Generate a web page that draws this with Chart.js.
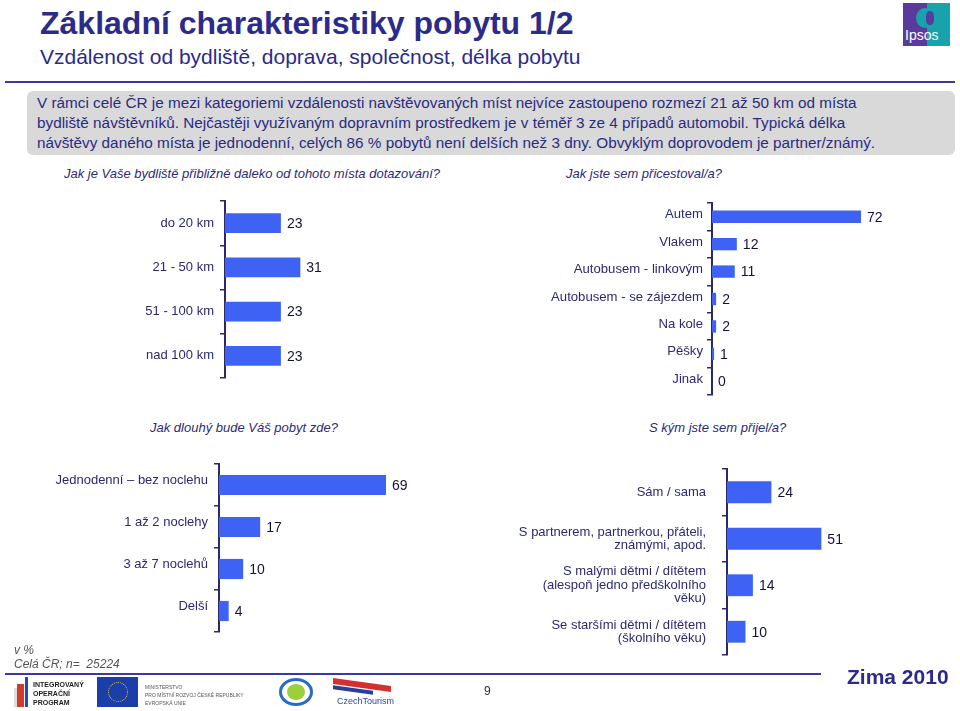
<!DOCTYPE html>
<html>
<head>
<meta charset="utf-8">
<script src="https://cdn.jsdelivr.net/npm/chart.js@4"></script>
<style>
  html,body{margin:0;padding:0;background:#fff;}
  body{width:960px;height:711px;position:relative;overflow:hidden;font-family:"Liberation Sans",Arial,sans-serif;}
  .abs{position:absolute;white-space:nowrap;}
  #title{left:40px;top:5px;font-size:32px;font-weight:bold;color:#2b2b8c;}
  #subtitle{left:40px;top:45px;font-size:21px;color:#2b2b8c;}
  #hline{left:5px;top:81px;width:950px;height:2px;background:#3a3a98;}
  #box{left:27px;top:91px;width:928px;height:64px;background:#d9d9da;border-radius:6px;}
  #boxtext{left:37px;top:93px;font-size:15.3px;line-height:20px;color:#2b2b80;}
  .q{font-style:italic;font-size:13px;color:#2b2b7a;}
  canvas{position:absolute;}
  #foot1{left:14px;top:643px;font-size:12px;font-style:italic;color:#555;}
  #foot2{left:14px;top:657px;font-size:12px;font-style:italic;color:#555;}
  #fline{left:5px;top:673px;width:816px;height:2px;background:#3a3a98;}
  #zima{left:847px;top:665px;font-size:21px;font-weight:bold;color:#2b2b8c;}
  #page{left:484px;top:684px;font-size:12px;color:#333;}
</style>
</head>
<body>
<div class="abs" id="title">Základní charakteristiky pobytu 1/2</div>
<div class="abs" id="subtitle">Vzdálenost od bydliště, doprava, společnost, délka pobytu</div>
<div class="abs" id="hline"></div>

<!-- Ipsos logo -->
<div class="abs" style="left:903px;top:3px;width:24px;height:43px;background:#5a3a9c;"></div>
<div class="abs" style="left:927px;top:3px;width:23px;height:43px;background:#17a3ab;"></div>
<div class="abs" style="left:916px;top:8px;width:18px;height:20px;border-radius:50%;background:#17a3ab;"></div>
<div class="abs" style="left:926px;top:11px;width:8px;height:14px;border-radius:40%;background:#5a3a9c;"></div>
<div class="abs" style="left:905px;top:27px;font-size:14px;color:#fff;font-family:'Liberation Sans Narrow','Liberation Sans',Arial;">Ipsos</div>

<div class="abs" id="box"></div>
<div class="abs" id="boxtext">V rámci celé ČR je mezi kategoriemi vzdálenosti navštěvovaných míst nejvíce zastoupeno rozmezí 21 až 50 km od místa<br>bydliště návštěvníků. Nejčastěji využívaným dopravním prostředkem je v téměř 3 ze 4 případů automobil. Typická délka<br>návštěvy daného místa je jednodenní, celých 86 % pobytů není delších než 3 dny. Obvyklým doprovodem je partner/známý.</div>

<div class="abs q" style="left:64px;top:166px;">Jak je Vaše bydliště přibližně daleko od tohoto místa dotazování?</div>
<div class="abs q" style="left:566px;top:166px;">Jak jste sem přicestoval/a?</div>
<div class="abs q" style="left:150px;top:420px;">Jak dlouhý bude Váš pobyt zde?</div>
<div class="abs q" style="left:649px;top:420px;">S kým jste sem přijel/a?</div>

<canvas id="c1" width="480" height="237" style="left:0px;top:171px;"></canvas>
<canvas id="c2" width="480" height="252" style="left:480px;top:173px;"></canvas>
<canvas id="c3" width="470" height="228" style="left:0px;top:434px;"></canvas>
<canvas id="c4" width="480" height="276" style="left:480px;top:424px;"></canvas>

<div class="abs" id="foot1">v %</div>
<div class="abs" id="foot2">Celá ČR; n= &nbsp;25224</div>
<div class="abs" id="fline"></div>
<div class="abs" id="zima">Zima 2010</div>
<div class="abs" id="page">9</div>

<!-- footer logos (approximation) -->
<div class="abs" style="left:14px;top:688px;width:6px;height:19px;background:#ddd;"></div>
<div class="abs" style="left:17px;top:684px;width:7px;height:23px;background:#d23a2a;"></div>
<div class="abs" style="left:25px;top:677px;width:3px;height:30px;background:#2a48a8;"></div>
<div class="abs" style="left:33px;top:680px;font-size:7px;font-weight:bold;line-height:9px;color:#222;">INTEGROVANÝ<br>OPERAČNÍ<br>PROGRAM</div>
<div class="abs" style="left:97px;top:677px;width:41px;height:30px;background:#1b3ea8;"></div>
<div class="abs" style="left:108px;top:682px;width:18px;height:18px;border-radius:50%;border:1px dotted #f2d22a;"></div>
<div class="abs" style="left:145px;top:683px;font-size:5px;line-height:8px;color:#555;">MINISTERSTVO<br>PRO MÍSTNÍ ROZVOJ ČESKÉ REPUBLIKY<br>EVROPSKÁ UNIE</div>
<div class="abs" style="left:279px;top:678px;width:34px;height:28px;border-radius:50%;border:3px solid #2a6ac8;box-sizing:border-box;"></div>
<div class="abs" style="left:287px;top:684px;width:18px;height:16px;border-radius:50%;background:#9ccf3a;"></div>
<div class="abs" style="left:333px;top:682px;width:58px;height:6px;background:#d43030;transform:skewY(8deg);"></div>
<div class="abs" style="left:333px;top:688px;width:40px;height:4px;background:#2a3e9a;transform:skewY(8deg);"></div>
<div class="abs" style="left:337px;top:696px;font-size:9px;color:#2a4aa0;">CzechTourism</div>

<script>
// ---- data ----
const distLabels = ['do 20 km', '21 - 50 km', '51 - 100 km', 'nad 100 km'];
const distValues = [23, 31, 23, 23];

const travelLabels = ['Autem', 'Vlakem', 'Autobusem - linkovým', 'Autobusem - se zájezdem', 'Na kole', 'Pěšky', 'Jinak'];
const travelValues = [72, 12, 11, 2, 2, 1, 0];

const stayLabels = ['Jednodenní – bez noclehu', '1 až 2 noclehy', '3 až 7 noclehů', 'Delší'];
const stayValues = [69, 17, 10, 4];

const companyLabels = [
  ['Sám / sama'],
  ['S partnerem, partnerkou, přáteli,', 'známými, apod.'],
  ['S malými dětmi / dítětem', '(alespoň jedno předškolního', 'věku)'],
  ['Se staršími dětmi / dítětem', '(školního věku)']
];
const companyValues = [24, 51, 14, 10];

// ---- rendering ----
const FONT = '"Liberation Sans", Arial, sans-serif';
const BAR = '#3d62f4';
const AXIS = '#2a2a6a';

const valueLabels = {
  id: 'valueLabels',
  afterDatasetsDraw(chart) {
    const ctx = chart.ctx;
    ctx.save();
    ctx.font = '14px ' + FONT;
    ctx.fillStyle = '#14143a';
    ctx.textBaseline = 'middle';
    ctx.textAlign = 'left';
    const meta = chart.getDatasetMeta(0);
    meta.data.forEach((bar, i) => {
      ctx.fillText(String(chart.data.datasets[0].data[i]), bar.x + 6, bar.y + 1);
    });
    ctx.restore();
  }
};

function makeChart(id, labels, values, o) {
  const cv = document.getElementById(id);
  const max = (cv.width - o.axisW) / o.ppu;
  return new Chart(cv, {
    type: 'bar',
    data: {
      labels: labels,
      datasets: [{
        data: values,
        backgroundColor: BAR,
        borderWidth: 0,
        categoryPercentage: 1,
        barPercentage: o.barPct
      }]
    },
    options: {
      indexAxis: 'y',
      responsive: false,
      animation: false,
      devicePixelRatio: 1,
      layout: { padding: { top: o.vpad, bottom: o.vpad, left: 0, right: 0 } },
      plugins: { legend: { display: false }, tooltip: { enabled: false } },
      scales: {
        x: { display: false, min: 0, max: max },
        y: {
          afterFit(scale) { scale.width = o.axisW; },
          border: { display: true, color: AXIS, width: 2 },
          grid: { offset: true, drawOnChartArea: false, drawTicks: true, tickLength: 5, color: AXIS, lineWidth: 1.5 },
          ticks: {
            color: '#2a2a72',
            font: { family: FONT, size: o.fontSize, lineHeight: 1.05 },
            padding: o.pad,
            labelOffset: o.labelOffset || 0,
            crossAlign: 'near'
          }
        }
      }
    },
    plugins: [valueLabels]
  });
}

makeChart('c1', distLabels, distValues, { axisW: 225, ppu: 2.43, barPct: 0.45, fontSize: 13, pad: 6, vpad: 30 });
makeChart('c2', travelLabels, travelValues, { axisW: 232, ppu: 2.07, barPct: 0.45, fontSize: 13.15, pad: 4, labelOffset: -2, vpad: 30 });
makeChart('c3', stayLabels, stayValues, { axisW: 219, ppu: 2.42, barPct: 0.48, fontSize: 13, pad: 6, labelOffset: -5, vpad: 30 });
makeChart('c4', companyLabels, companyValues, { axisW: 247, ppu: 1.85, barPct: 0.47, fontSize: 13, pad: 16, vpad: 45 });
</script>
</body>
</html>
